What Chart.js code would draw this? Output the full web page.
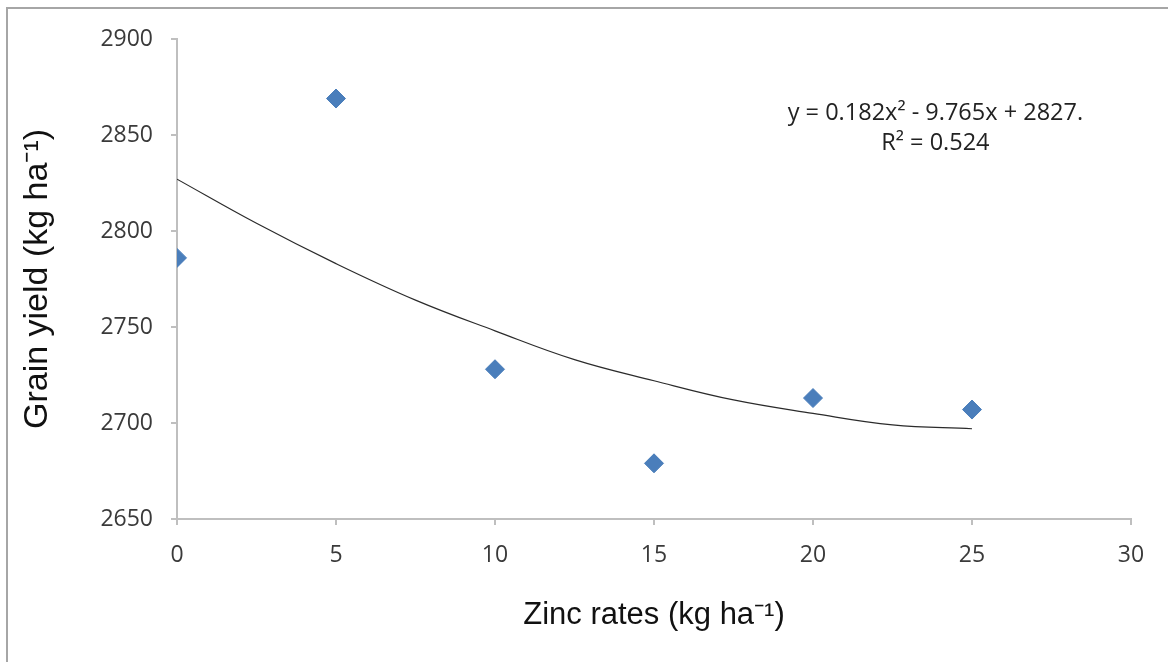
<!DOCTYPE html>
<html>
<head>
<meta charset="utf-8">
<script src="https://cdn.jsdelivr.net/npm/chart.js@4"></script>
<style>
  html, body { margin: 0; padding: 0; background: #fff; }
</style>
</head>
<body>
<canvas id="chart" width="1168" height="662"></canvas>
<script>
// zinc rates (kg/ha) and grain yield
var zincRates = [0, 5, 10, 15, 20, 25];
var grainYield = [2786, 2869, 2728, 2679, 2713, 2707];

// polynomial trendline as drawn (read at 2.5 steps)
var trendX = [0, 2.5, 5, 7.5, 10, 12.5, 15, 17.5, 20, 22.5, 25];
var trendY = [2827, 2804, 2783, 2764, 2748, 2733, 2722, 2712, 2705, 2699, 2697];

var xTicks = [0, 5, 10, 15, 20, 25, 30];
var yTicks = [2650, 2700, 2750, 2800, 2850, 2900];

var eqLines = ["y = 0.182x\u00B2 - 9.765x + 2827.", "R\u00B2 = 0.524"];

var scatterPts = zincRates.map(function (x, i) { return { x: x, y: grainYield[i] }; });
var trendPts = trendX.map(function (x, i) { return { x: x, y: trendY[i] }; });

var tickFont = { family: '"Open Sans", "Noto Sans", sans-serif', size: 23 };

// frame + white bg
var framePlugin = {
  id: 'frame',
  beforeDraw: function (chart) {
    var ctx = chart.ctx;
    ctx.save();
    ctx.fillStyle = '#fff';
    ctx.fillRect(0, 0, chart.width, chart.height);
    ctx.strokeStyle = '#a6a6a6';
    ctx.lineWidth = 2;
    ctx.strokeRect(7, 8, chart.width + 20, chart.height + 20);
    ctx.restore();
  }
};

// equation text box
var eqPlugin = {
  id: 'eqText',
  afterDatasetsDraw: function (chart) {
    var ctx = chart.ctx;
    var xs = chart.scales.x, ys = chart.scales.y;
    var cx = xs.getPixelForValue(23.85);
    var cy = ys.getPixelForValue(2861.5);
    ctx.save();
    ctx.fillStyle = '#222';
    ctx.font = '23.5px "Open Sans", "Noto Sans", sans-serif';
    ctx.textAlign = 'center';
    ctx.textBaseline = 'middle';
    eqLines.forEach(function (t, i) {
      ctx.fillText(t, cx, cy + i * 30);
    });
    ctx.restore();
  }
};

new Chart(document.getElementById('chart'), {
  type: 'scatter',
  data: {
    datasets: [
      {
        label: 'Grain yield',
        data: scatterPts,
        pointStyle: 'rectRot',
        pointRadius: 9.5,
        pointHoverRadius: 9.5,
        backgroundColor: '#4a7ebb',
        borderColor: '#4a7ebb',
        borderWidth: 1,
        showLine: false
      },
      {
        label: 'Poly. trend',
        data: trendPts,
        showLine: true,
        pointRadius: 0,
        borderColor: '#2b2b2b',
        borderWidth: 1.2,
        tension: 0.4,
        fill: false
      }
    ]
  },
  options: {
    responsive: false,
    animation: false,
    layout: { padding: { left: 0, right: 37, top: 39, bottom: 0 } },
    plugins: {
      legend: { display: false },
      tooltip: { enabled: false }
    },
    scales: {
      x: {
        type: 'linear',
        min: 0,
        max: 30,
        afterBuildTicks: function (s) { s.ticks = xTicks.map(function (v) { return { value: v }; }); },
        afterFit: function (s) { s.height = 143; },
        grid: { drawOnChartArea: false, drawTicks: true, tickLength: 6, color: '#bfbfbf', lineWidth: 2 },
        border: { color: '#bfbfbf', width: 2 },
        ticks: { padding: 17, color: '#3a3a3a', font: tickFont, maxRotation: 0, callback: function (v) { return String(v); } },
        title: { display: true, text: 'Zinc rates (kg ha\u207B\u00B9)', color: '#111', font: { family: '"Liberation Sans", Arial, sans-serif', size: 31 }, padding: { top: 0, bottom: 28 } }
      },
      y: {
        type: 'linear',
        min: 2650,
        max: 2900,
        afterBuildTicks: function (s) { s.ticks = yTicks.map(function (v) { return { value: v }; }); },
        afterFit: function (s) { s.width = 177; },
        grid: { drawOnChartArea: false, drawTicks: true, tickLength: 6, color: '#bfbfbf', lineWidth: 2 },
        border: { color: '#bfbfbf', width: 2 },
        ticks: { padding: 18, color: '#3a3a3a', font: tickFont, callback: function (v) { return String(v); } },
        title: { display: true, text: 'Grain yield (kg ha\u207B\u00B9)', color: '#111', font: { family: '"Liberation Sans", Arial, sans-serif', size: 34 }, padding: { top: 17, bottom: 0 } }
      }
    }
  },
  plugins: [framePlugin, eqPlugin]
});
</script>
</body>
</html>
